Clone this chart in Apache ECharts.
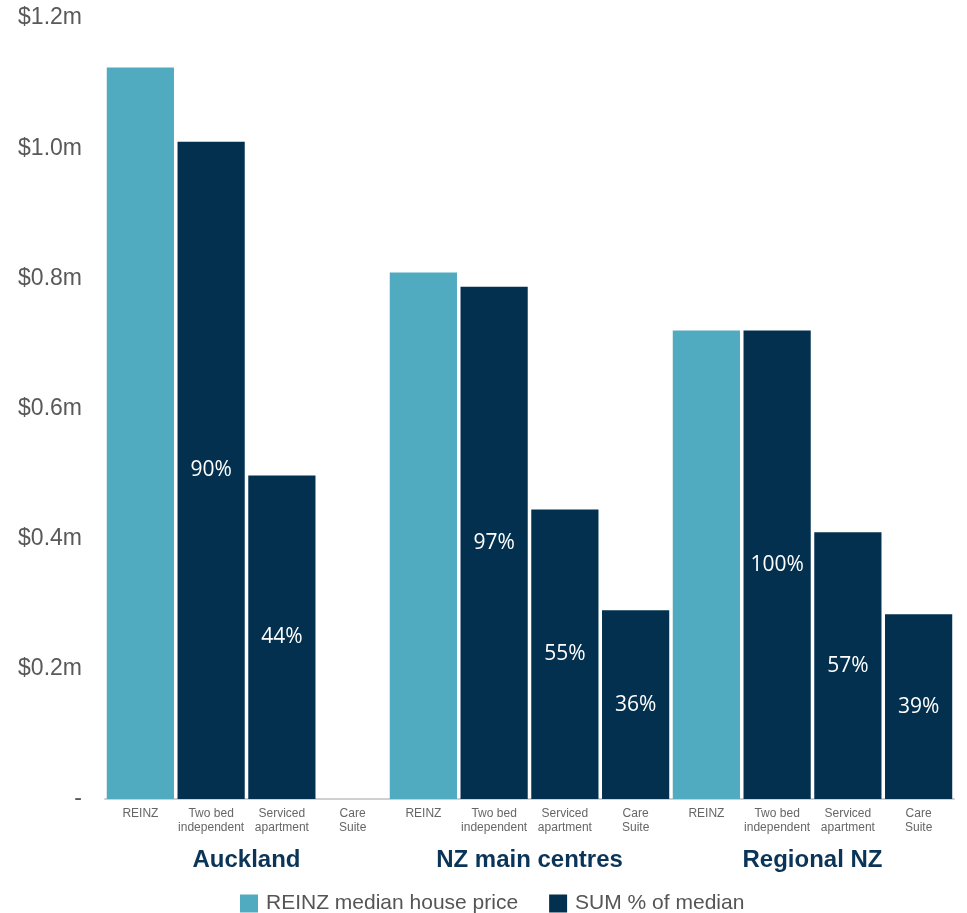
<!DOCTYPE html>
<html>
<head>
<meta charset="utf-8">
<script src="https://cdn.jsdelivr.net/npm/echarts@6/dist/echarts.min.js"></script>
<style>
  html, body { margin: 0; padding: 0; background: #fff; }
  #chart { width: 967px; height: 913px; }
</style>
</head>
<body>
<div id="chart"></div>
<script>
// categories along the axis, 4 per region
const categories = [
  'REINZ', 'Two bed\nindependent', 'Serviced\napartment', 'Care\nSuite',
  'REINZ', 'Two bed\nindependent', 'Serviced\napartment', 'Care\nSuite',
  'REINZ', 'Two bed\nindependent', 'Serviced\napartment', 'Care\nSuite'
];
const regions = ['Auckland', 'NZ main centres', 'Regional NZ'];

// values in $m
const reinzMedian = [1.124, null, null, null, 0.809, null, null, null, 0.72, null, null, null];
const sumValues = [null, 1.01, 0.497, null, null, 0.787, 0.445, 0.29, null, 0.72, 0.41, 0.284];
const sumPct = ['', '90%', '44%', '', '', '97%', '55%', '36%', '', '100%', '57%', '39%'];

const yTicks = [0, 0.2, 0.4, 0.6, 0.8, 1.0, 1.2];

const chart = echarts.init(document.getElementById('chart'));

const option = {
  animation: false,
  grid: {
    left: 105,
    right: 13,
    top: 18,
    bottom: 114
  },
  legend: {
    data: ['REINZ median house price', 'SUM % of median'],
    left: 235,
    top: 888,
    itemWidth: 18,
    itemHeight: 18,
    itemGap: 31,
    icon: 'rect',
    textStyle: {
      fontFamily: 'Liberation Sans',
      fontSize: 21,
      color: '#555',
      padding: [0, 0, 0, 3]
    }
  },
  xAxis: [{
    type: 'category',
    data: categories,
    axisLine: { lineStyle: { color: '#d0d0d0', width: 2 } },
    axisTick: { show: false },
    axisLabel: {
      interval: 0,
      margin: 8,
      fontFamily: 'Liberation Sans',
      fontSize: 12,
      lineHeight: 14,
      color: '#666'
    }
  }, {
    type: 'category',
    data: regions,
    position: 'bottom',
    offset: 41,
    axisLine: { show: false },
    axisTick: { show: false },
    axisLabel: {
      interval: 0,
      margin: 8,
      fontFamily: 'Liberation Sans',
      fontWeight: 'bold',
      fontSize: 24,
      color: '#0b3558'
    }
  }],
  yAxis: {
    type: 'value',
    min: yTicks[0],
    max: yTicks[yTicks.length - 1],
    interval: 0.2,
    splitLine: { show: false },
    axisLine: { show: false },
    axisTick: { show: false },
    axisLabel: {
      margin: 23,
      fontFamily: 'Liberation Sans',
      fontSize: 23,
      color: '#595959',
      formatter: function (v) {
        return v === 0 ? '-' : '$' + v.toFixed(1) + 'm';
      }
    }
  },
  series: [{
    name: 'REINZ median house price',
    type: 'bar',
    stack: 'all',
    barCategoryGap: '5%',
    itemStyle: { color: '#50abc0' },
    data: reinzMedian
  }, {
    name: 'SUM % of median',
    type: 'bar',
    stack: 'all',
    barCategoryGap: '5%',
    itemStyle: { color: '#02304e' },
    label: {
      show: true,
      position: 'inside',
      fontFamily: 'Open Sans',
      fontSize: 21,
      color: '#fff',
      formatter: function (p) { return sumPct[p.dataIndex]; }
    },
    data: sumValues
  }]
};

chart.setOption(option);
</script>
</body>
</html>
